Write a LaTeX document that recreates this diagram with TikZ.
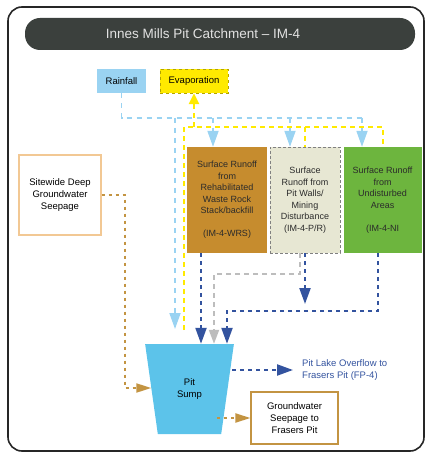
\documentclass[tikz,border=0pt]{standalone}
\usepackage{fontspec}
\setmainfont{Liberation Sans}
\usetikzlibrary{arrows.meta,shapes.geometric}
\definecolor{barcol}{HTML}{3B403D}
\definecolor{titlecol}{HTML}{E2E2E2}
\definecolor{raincol}{HTML}{9AD3F2}
\definecolor{evapcol}{HTML}{FFEA00}
\definecolor{wrscol}{HTML}{C68C2E}
\definecolor{prcol}{HTML}{E7E7D3}
\definecolor{nicol}{HTML}{6DB53E}
\definecolor{sumpcol}{HTML}{5CC3EA}
\definecolor{runcol}{HTML}{33539F}
\definecolor{wallcol}{HTML}{BDBDBD}
\definecolor{seepcol}{HTML}{C39442}
\definecolor{deepcol}{HTML}{F2C894}
\definecolor{boxtext}{HTML}{2B2B2B}

\begin{document}
\begin{tikzpicture}[x=1pt,y=-1pt,>={Triangle[width=11pt,length=16pt]},titlebar/.style={fill=barcol,rounded corners=15pt,minimum width=390,minimum height=32,inner sep=0},title/.style={text=titlecol,font=\fontsize{13.5}{16}\selectfont},tag/.style={minimum height=24,inner sep=0,font=\fontsize{9.5}{11.5}\selectfont},runoffbox/.style={minimum height=106,inner sep=0,align=center,text=boxtext,font=\fontsize{9}{11.5}\selectfont},whitebox/.style={draw,fill=white,line width=1.2pt,align=center,inner sep=0,font=\fontsize{9.5}{12}\selectfont},sumpshape/.style={trapezium,shape border rotate=180,trapezium left angle=76.6,trapezium right angle=76.6,trapezium stretches=true,minimum width=89,minimum height=90,inner sep=0,fill=sumpcol,align=center,font=\fontsize{9.5}{12}\selectfont},rainline/.style={draw=raincol,line width=1.8pt,dash pattern=on 5pt off 5pt},evapline/.style={draw=evapcol,line width=2.4pt,dash pattern=on 5pt off 4pt},runoff/.style={draw=runcol,line width=2.2pt,dash pattern=on 4pt off 4pt},wallline/.style={draw=wallcol,line width=2pt,dash pattern=on 5pt off 4pt},seepline/.style={draw=seepcol,line width=2pt,dash pattern=on 3pt off 4pt}]
\useasboundingbox (0,0) rectangle (426,454);
\draw[line width=1.6pt,rounded corners=14pt,draw=black!85] (8,7) rectangle (424,451);
\node[titlebar] (bar) at (220,34) {}; \node[title] (title) at (203,34) {Innes Mills Pit Catchment -- IM-4};
\node[tag,fill=raincol,minimum width=49] (rain) at (121.5,81) {Rainfall};
\node[tag,fill=evapcol,draw=evapcol!70!black,dashed,minimum width=68] (evap) at (194,81) {Evaporation};
\node[runoffbox,fill=wrscol,minimum width=80] (wrs) at (227,200) {Surface Runoff\\from\\Rehabilitated\\Waste Rock\\Stack/backfill\\[11.5pt](IM-4-WRS)};
\node[runoffbox,fill=prcol,draw=gray,densely dashed,minimum width=70] (pr) at (305,200) {Surface\\Runoff from\\Pit Walls/\\Mining\\Disturbance\\(IM-4-P/R)};
\node[runoffbox,fill=nicol,minimum width=78] (ni) at (382.5,200) {Surface Runoff\\from\\Undisturbed\\Areas\\[11.5pt](IM-4-NI};
\node[whitebox,draw=deepcol,minimum width=82,minimum height=80] (deep) at (60,195) {Sitewide Deep\\Groundwater\\Seepage};
\node[sumpshape] (sump) at (189.5,389) {Pit\\Sump};
\node[anchor=west,align=left,text=runcol,inner sep=0,font=\fontsize{9.5}{12.5}\selectfont] (overflow) at (302,370) {Pit Lake Overflow to\\Frasers Pit (FP-4)};
\node[whitebox,draw=seepcol,minimum width=87,minimum height=52] (seep) at (294.5,418) {Groundwater\\Seepage to\\Frasers Pit};
\coordinate (rbus) at (362,118); \coordinate (rwrs) at (213,118); \coordinate (rpr) at (290,118); \coordinate (rsump) at (175,118);
\draw[rainline] (rain.south) |- (rbus);
\draw[rainline,->] (rwrs) -- (rwrs |- wrs.north); \draw[rainline,->] (rpr) -- (rpr |- pr.north); \draw[rainline,->] (rbus) -- (rbus |- ni.north);
\draw[rainline,->] (rsump) -- (175,329);
\coordinate (ybus) at (383,127); \coordinate (ypr) at (305,127); \coordinate (ysump) at (184,330);
\draw[evapline] (ysump) |- (ybus) -- (ybus |- ni.north); \draw[evapline] (ypr) -- (ypr |- pr.north);
\draw[evapline,->,>={Triangle[width=10pt,length=11pt]}] (evap.south |- ybus) -- (evap.south);
\coordinate (wrsdrop) at (201,253); \coordinate (prgray) at (300,253); \coordinate (graybend) at (214,274); \coordinate (prdrop) at (305,253); \coordinate (nidrop) at (378,253); \coordinate (nibus) at (227,311);
\draw[runoff,->] (wrsdrop) -- (wrsdrop |- sump.north);
\draw[wallline,->,>={Triangle[width=10pt,length=14pt]}] (prgray) |- (graybend) -- (graybend |- sump.north);
\draw[runoff,->,shorten >=7pt] (prdrop) -- (prdrop |- nibus);
\draw[runoff,->] (nidrop) |- (nibus) -- (nibus |- sump.north);
\coordinate (ovstart) at (232,370); \draw[runoff,->,shorten >=9pt] (ovstart) -- (overflow.west);
\coordinate (deepbend) at (125,388); \draw[seepline,->,>={Triangle[width=9pt,length=15pt]}] (deep.east) -| (deepbend) -- (deepbend -| sump.west);
\coordinate (sumpseep) at (217,418); \draw[seepline,->,>={Triangle[width=9pt,length=15pt]}] (sumpseep) -- (seep.west);
\end{tikzpicture}
\end{document}
